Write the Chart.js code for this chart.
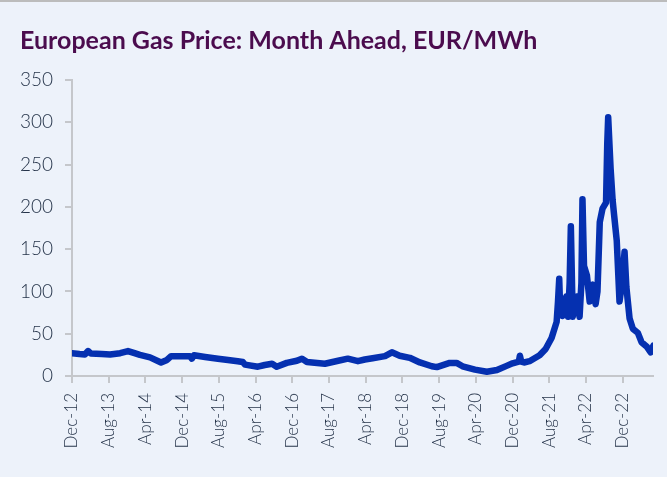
<!DOCTYPE html>
<html>
<head>
<meta charset="utf-8">
<script src="https://cdn.jsdelivr.net/npm/chart.js@4.4.0/dist/chart.umd.min.js"></script>
<style>
  html, body { margin: 0; padding: 0; background: #f4f6fa; }
  #wrap {
    position: relative;
    width: 667px;
    height: 477px;
    background: #edf2fa;
    box-sizing: border-box;
    border-top: 2px solid #bcbcbc;
  }
  #gasChart { display: block; }
</style>
</head>
<body>
<div id="wrap">
  <canvas id="gasChart" width="667" height="475"></canvas>
</div>
<script>
// Month-ahead gas price, EUR/MWh
const dates = [
  '2012-12-01', '2013-01-20', '2013-02-25', '2013-03-16', '2013-04-05', '2013-06-15',
  '2013-08-10', '2013-10-16', '2013-12-07', '2014-01-20', '2014-02-25', '2014-05-01',
  '2014-07-13', '2014-08-22', '2014-09-19', '2014-12-01', '2015-01-22', '2015-02-04',
  '2015-02-19', '2015-05-01', '2015-07-25', '2015-10-01', '2015-12-04', '2016-01-07',
  '2016-01-22', '2016-04-16', '2016-06-01', '2016-07-19', '2016-08-19', '2016-10-25',
  '2017-01-01', '2017-02-04', '2017-03-07', '2017-07-04', '2017-10-01', '2017-12-04',
  '2018-02-10', '2018-03-25', '2018-05-16', '2018-08-07', '2018-09-22', '2018-11-13',
  '2019-01-19', '2019-03-25', '2019-06-13', '2019-07-16', '2019-10-10', '2019-11-25',
  '2020-01-04', '2020-03-25', '2020-06-13', '2020-08-19', '2020-10-22', '2020-12-01',
  '2021-01-12', '2021-01-19', '2021-01-28', '2021-02-16', '2021-03-22', '2021-05-28',
  '2021-07-07', '2021-08-16', '2021-09-19', '2021-09-28', '2021-10-06', '2021-10-12',
  '2021-10-28', '2021-11-10', '2021-11-22', '2021-12-04', '2021-12-14', '2021-12-22',
  '2022-01-04', '2022-01-20', '2022-02-01', '2022-02-19', '2022-03-01', '2022-03-08',
  '2022-03-18', '2022-04-07', '2022-04-25', '2022-05-16', '2022-06-04', '2022-06-16',
  '2022-07-01', '2022-07-19', '2022-08-12', '2022-08-20', '2022-08-26', '2022-09-12',
  '2022-09-25', '2022-10-05', '2022-10-22', '2022-11-10', '2022-11-28', '2022-12-13',
  '2022-12-25', '2023-01-16', '2023-02-07', '2023-03-10', '2023-04-04', '2023-05-07',
  '2023-06-04', '2023-06-22'
];
const prices = [
  27, 26, 25.5, 29.5, 26.5, 26,
  25.5, 27, 29.5, 27, 25, 22,
  16, 19, 23.5, 23.5, 23.5, 20.5,
  24.5, 22.5, 20.5, 19, 17.5, 16.5,
  13.5, 11, 13, 14.5, 11, 15.5,
  18, 20.5, 16.5, 14.5, 18, 20.5,
  17.5, 19.5, 21, 23.5, 28, 24,
  21.5, 16, 11.5, 10.5, 15.5, 15.5,
  11.5, 7.5, 5, 7, 12, 15,
  17, 24, 17, 16, 17.5, 24.5,
  32, 45, 64, 88, 115, 80,
  71, 88, 94, 70, 110, 177,
  70, 84, 94, 70, 110, 209,
  130, 119, 88, 108, 85, 100,
  182, 198, 205, 275, 306, 245,
  208, 190, 160, 88, 112, 147,
  105, 68, 56, 51, 40, 35,
  28, 36
];

// one label every 8 months, starting Dec-12
const tickLabels = [
  'Dec-12', 'Aug-13', 'Apr-14', 'Dec-14', 'Aug-15', 'Apr-16', 'Dec-16', 'Aug-17',
  'Apr-18', 'Dec-18', 'Aug-19', 'Apr-20', 'Dec-20', 'Aug-21', 'Apr-22', 'Dec-22'
];

const yTicks = { min: 0, max: 350, step: 50 };

// months since Dec 2012, fractional
const monthOffset = (d) => {
  const [y, m, day] = d.split('-').map(Number);
  return (y - 2012) * 12 + (m - 12) + (day - 1) / 30;
};

const points = dates.map((d, i) => ({ x: monthOffset(d), y: prices[i] }));

const axisGrey = '#c5c7cb';
const labelColor = '#26344a';

new Chart(document.getElementById('gasChart'), {
  type: 'line',
  data: {
    datasets: [{
      data: points,
      borderColor: '#0530b0',
      borderWidth: 6.5,
      borderJoinStyle: 'round',
      borderCapStyle: 'round',
      pointRadius: 0,
      tension: 0,
      fill: false
    }]
  },
  options: {
    responsive: false,
    animation: false,
    layout: { padding: { left: 20, right: 14, top: 10, bottom: 6 } },
    plugins: {
      legend: { display: false },
      tooltip: { enabled: false },
      title: {
        display: true,
        text: 'European Gas Price: Month Ahead, EUR/MWh',
        align: 'start',
        color: '#4b0c4e',
        font: { family: 'Lato', size: 25, weight: 'bold' },
        padding: { top: 14, bottom: 24 }
      }
    },
    scales: {
      x: {
        type: 'linear',
        min: 0,
        max: 126.6,
        afterFit: (scale) => { scale.height = 95; },
        grid: { drawOnChartArea: false, color: axisGrey, lineWidth: 2, tickLength: 7 },
        border: { color: axisGrey, width: 2 },
        ticks: {
          stepSize: 8,
          includeBounds: false,
          autoSkip: false,
          maxRotation: 90,
          minRotation: 90,
          padding: 10,
          color: labelColor,
          font: { family: 'Lato', size: 17, weight: 300 },
          callback: (v) => tickLabels[v / 8] ?? ''
        }
      },
      y: {
        min: yTicks.min,
        max: yTicks.max,
        afterFit: (scale) => { scale.width = 52; },
        grid: { drawOnChartArea: false, color: axisGrey, lineWidth: 2, tickLength: 7 },
        border: { color: axisGrey, width: 2 },
        ticks: {
          stepSize: yTicks.step,
          padding: 12,
          color: labelColor,
          font: { family: 'Lato', size: 19, weight: 300 }
        }
      }
    }
  }
});
</script>
</body>
</html>
